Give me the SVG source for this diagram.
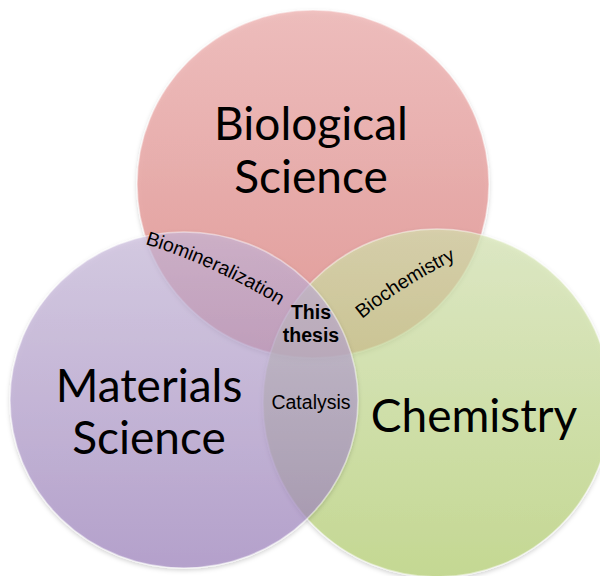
<svg xmlns="http://www.w3.org/2000/svg" width="600" height="576" viewBox="0 0 600 576">
<defs>
<linearGradient id="gRed" x1="0" y1="0" x2="0" y2="1">
<stop offset="0" stop-color="#EEA8A7"/><stop offset="1" stop-color="#DD7673"/>
</linearGradient>
<linearGradient id="gPur" x1="0" y1="0" x2="0" y2="1">
<stop offset="0" stop-color="#C9BADC"/><stop offset="1" stop-color="#9B7FBD"/>
</linearGradient>
<linearGradient id="gGrn" x1="0" y1="0" x2="0" y2="1">
<stop offset="0" stop-color="#D6E6B2"/><stop offset="1" stop-color="#B2CF6A"/>
</linearGradient>
<filter id="sh" x="-10%" y="-10%" width="120%" height="125%">
<feDropShadow dx="0" dy="2" stdDeviation="2" flood-color="#000" flood-opacity="0.25"/>
</filter>
<path id="pBio" d="M145,244 Q217,266 290,312"/>
<path id="pChem" d="M362,319 Q406,283 465,255"/>
</defs>
<style>
.c{fill-opacity:0.65;stroke:#ffffff;stroke-opacity:0.45;stroke-width:1.5}
.big{font-family:Lato,"Open Sans",sans-serif;font-size:46px;fill:#000;text-anchor:middle}
.sm{font-family:"Liberation Sans",Arial,sans-serif;font-size:19.5px;fill:#000}
.b{font-weight:bold;text-anchor:middle}
</style>
<g id="biological" filter="url(#sh)">
<ellipse class="c" cx="313" cy="184" rx="176" ry="174" fill="url(#gRed)"/>
</g>
<g id="chemistry" filter="url(#sh)">
<ellipse class="c" cx="437" cy="403" rx="174" ry="174" fill="url(#gGrn)"/>
</g>
<g id="materials" filter="url(#sh)">
<ellipse class="c" cx="184" cy="400" rx="174" ry="168" fill="url(#gPur)"/>
</g>
<g id="labels">
<text class="big" x="311" y="140">Biological</text>
<text class="big" x="311" y="193">Science</text>
<text class="big" x="149" y="402">Materials</text>
<text class="big" x="149" y="454">Science</text>
<text class="big" x="474" y="432">Chemistry</text>
<text class="sm"><textPath href="#pBio">Biomineralization</textPath></text>
<text class="sm"><textPath href="#pChem">Biochemistry</textPath></text>
<text class="sm b" x="311" y="319">This</text>
<text class="sm b" x="311" y="342">thesis</text>
<text class="sm" x="311" y="409" text-anchor="middle">Catalysis</text>
</g>
</svg>
